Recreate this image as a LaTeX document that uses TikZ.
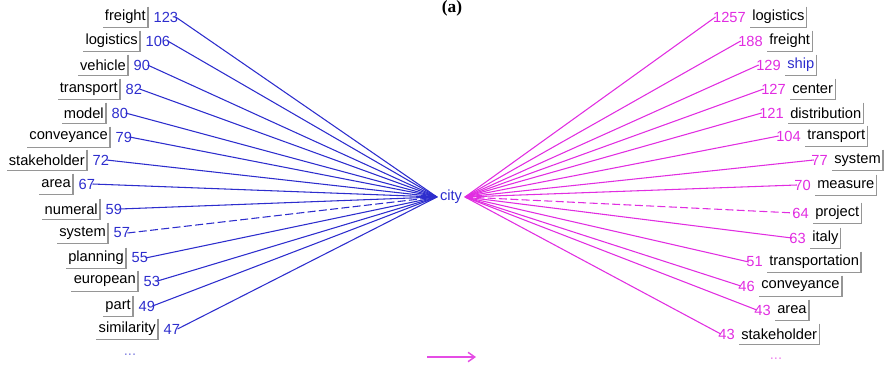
\documentclass[tikz,border=0pt]{standalone}
\usepackage{fontspec}
\setmainfont{Liberation Sans}
\newfontfamily\titlefont{Liberation Serif}
\usetikzlibrary{arrows.meta,calc}

\definecolor{leftblue}{RGB}{45,45,205}
\definecolor{rightpink}{RGB}{225,45,225}
\definecolor{edgegray}{RGB}{150,150,150}

\tikzset{
    word/.style={inner sep=1.5pt, minimum height=15pt,
        font=\fontsize{11}{13}\selectfont},
    num/.style={inner sep=0pt, font=\fontsize{11}{13}\selectfont},
    wordedge/.style={edgegray, line width=1.1pt},
    link/.style={line width=0.8pt},
    longdash/.style={dash pattern=on 6pt off 2.5pt}
}

\begin{document}
\begin{tikzpicture}[x=0.75pt, y=-0.75pt]

    \useasboundingbox (0,0) rectangle (886,368);

    % title
    \node[font=\titlefont\bfseries\fontsize{13}{15}\selectfont, anchor=base] (title) at (452,12.5) {(a)};

    % hub
    \node[num, leftblue] (city) at (451,197) {city};
    \coordinate (cityL) at (437,197);
    \coordinate (cityR) at (465,197);

    % left side: words pointing to city
    \foreach \w/\n/\bx/\yy/\s [count=\i] in {
        freight/123/148/17/solid,
        logistics/106/140/41/solid,
        vehicle/90/128/65/solid,
        transport/82/120/89/solid,
        model/80/106/113/solid,
        conveyance/79/110/137/solid,
        stakeholder/72/87/160/solid,
        area/67/73/184/solid,
        numeral/59/100/209/solid,
        system/57/108/233/longdash,
        planning/55/126/258/solid,
        european/53/138/281/solid,
        part/49/133/306/solid,
        similarity/47/158/329/solid} {

        \node[word, anchor=east] (lw\i) at (\bx,\yy) {\w};
        \draw[wordedge] (lw\i.north east) -- (lw\i.south east) -- (lw\i.south west);
        \node[num, leftblue, anchor=west] (ln\i) at ([xshift=4pt]lw\i.east) {\n};
        \draw[link, leftblue, \s] ([xshift=-2pt]ln\i.east) -- (cityL);

    }

    % right side: city pointing to words
    \foreach \n/\w/\wx/\yy/\c/\s [count=\i] in {
        1257/logistics/750/17/black/solid,
        188/freight/767/41/black/solid,
        129/ship/785/65/leftblue/solid,
        127/center/790/89/black/solid,
        121/distribution/788/113/black/solid,
        104/transport/805/136/black/solid,
        77/system/832/160/black/solid,
        70/measure/815/185/black/solid,
        64/project/813/213/black/longdash,
        63/italy/810/238/black/solid,
        51/transportation/767/262/black/solid,
        46/conveyance/759/286/black/solid,
        43/area/775/310/black/solid,
        43/stakeholder/739/334/black/solid} {

        \node[word, anchor=west, text=\c] (rw\i) at (\wx,\yy) {\w};
        \draw[wordedge] (rw\i.north east) -- (rw\i.south east) -- (rw\i.south west);
        \node[num, rightpink, anchor=east] (rn\i) at ([xshift=-3pt]rw\i.west) {\n};
        \draw[link, rightpink, \s] (cityR) -- ([xshift=2pt]rn\i.west);

    }

    % more entries
    \node[num, leftblue!60] (lmore) at (130,355) {...};
    \node[num, rightpink!60] (rmore) at (776,359) {...};

    % legend arrow
    \coordinate (arrS) at (427,357);
    \coordinate (arrE) at (476,357);
    \draw[rightpink!85, line width=1.1pt, -{Straight Barb[length=5pt,width=7pt]}] (arrS) -- (arrE);

\end{tikzpicture}
\end{document}
